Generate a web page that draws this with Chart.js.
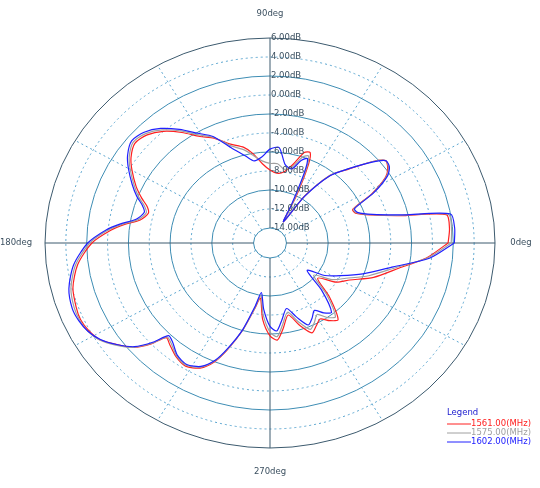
<!DOCTYPE html>
<html>
<head>
<meta charset="UTF-8">
<script src="https://cdn.jsdelivr.net/npm/chart.js"></script>
<style>body{margin:0;background:#fff}#wrap{width:540px;height:488px}</style>
</head>
<body>
<div id="wrap"><canvas id="myChart"></canvas></div>
<script>
// angle in degrees, gain in dB
const angles = [0,5,10,13,17,21,24,28,32,35,38,41,46,51,56,60,63,66,68,71,75,80,85,90,95,100,104,110,116,121,126,131,136,141,146,150,155,159,162,165,169,172,175,180,187,194,200,204,208,212,216,220,223,225,228,233,238,243,247,250,254,258,261,265,270,274,278,283,288,293,297,301,305,309,315,321,327,333,340,348,354];
const gain1561 = [1.5,1.7,1.6,-2.8,-5.5,-6.8,-6.9,-4.5,-2.5,-1.8,-1.5,-2.5,-4.8,-6.4,-9.5,-13,-10,-6.5,-5.3,-5.5,-7,-8,-8.2,-7.9,-7.2,-6,-5.2,-4.5,-3.3,-2.5,-1.2,0,0.8,1.1,0.5,-0.3,-1.4,-2.4,-3.2,-3.5,-2.9,-1.5,-0.25,1.5,3,3.9,4.2,4.3,4.1,3.65,2.6,1.5,0,-1.5,-1.2,-0.6,-0.3,-0.8,-2,-3.6,-6,-8.5,-9.7,-7.5,-5.8,-5.35,-6.5,-7.8,-6.5,-5.3,-5.8,-6.25,-5.6,-5.2,-7.5,-9.7,-8,-7,-5,-2.9,-0.5];
const gain1575 = [1.8,1.9,1.8,-2.6,-5.4,-6.7,-6.8,-4.4,-2.4,-1.7,-1.5,-2.5,-4.7,-6.4,-9.6,-13,-10.5,-7,-5.7,-6,-7.3,-7.7,-7.2,-7.2,-6.9,-6.2,-5.5,-4.7,-3.2,-2.3,-1,0.2,1,1.3,0.7,-0.1,-1.2,-2.1,-2.9,-3.3,-2.7,-1.3,0,1.7,3.2,4.1,4.4,4.4,4.2,3.7,2.7,1.5,-0.1,-1.6,-1.4,-0.7,-0.4,-0.9,-2.1,-3.7,-6,-8.6,-10,-8,-6.2,-5.7,-6.9,-8.1,-6.9,-5.7,-6.2,-6.8,-6,-5.6,-7.9,-10.2,-8.5,-7.4,-5.5,-3.2,-0.4];
const gain1602 = [2.1,2.2,2,-2.4,-5.3,-6.6,-6.7,-4.3,-2.3,-1.6,-1.5,-2.6,-4.7,-6.5,-9.7,-13,-11,-7.5,-6,-6.4,-7.5,-7.2,-5.5,-5.7,-6.5,-6.8,-6.2,-5,-3.1,-2.1,-0.8,0.4,1.2,1.5,0.9,0.1,-1,-1.9,-2.7,-3.1,-2.5,-1.1,0.2,1.9,3.4,4.3,4.6,4.5,4.2,3.6,2.6,1.4,-0.3,-1.8,-1.6,-0.8,-0.5,-1,-2.2,-3.8,-6.1,-8.8,-10.3,-8.6,-6.8,-6.3,-7.4,-8.5,-7.4,-6.2,-6.7,-7.3,-6.6,-6.2,-8.6,-11,-9.3,-8,-6.1,-3.5,-0.2];
const ringLevels = [-14,-12,-10,-8,-6,-4,-2,0,2,4,6];
const seriesNames = ['1561.00(MHz)','1575.00(MHz)','1602.00(MHz)'];
const seriesColors = ['#ff2020','#a0a0a0','#2020ff'];

const minDb = -14, maxDb = 6, hole = 15 / 205;
function rad(v) { return hole + (v - minDb) / (maxDb - minDb) * (1 - hole); }
function toXY(gains) {
    const pts = angles.map((a, i) => {
        const r = rad(gains[i]), t = a * Math.PI / 180;
        return { x: r * Math.cos(t), y: r * Math.sin(t) };
    });
    pts.push(pts[0]);
    return pts;
}

const polarGrid = {
    id: 'polarGrid',
    beforeDatasetsDraw(chart) {
        const c = chart.ctx, xs = chart.scales.x, ys = chart.scales.y;
        const cx = xs.getPixelForValue(0), cy = ys.getPixelForValue(0);
        const kx = xs.getPixelForValue(1) - cx, ky = cy - ys.getPixelForValue(1);
        c.save();
        // dashed spokes
        c.setLineDash([2, 3]);
        c.strokeStyle = '#5aa5cf';
        c.lineWidth = 1;
        for (let a = 30; a < 360; a += 30) {
            if (a % 90 === 0) continue;
            const t = a * Math.PI / 180;
            c.beginPath();
            c.moveTo(cx + hole * kx * Math.cos(t), cy - hole * ky * Math.sin(t));
            c.lineTo(cx + kx * Math.cos(t), cy - ky * Math.sin(t));
            c.stroke();
        }
        ringLevels.forEach((v, i) => {
            const r = rad(v);
            const solid = i % 2 === 0;
            c.setLineDash(solid ? [] : [2, 3]);
            c.strokeStyle = v === maxDb ? '#3c5a6e' : (solid ? '#3e8db4' : '#5aa5cf');
            c.lineWidth = 1;
            c.beginPath();
            c.ellipse(cx, cy, r * kx, r * ky, 0, 0, 2 * Math.PI);
            c.stroke();
        });
        // main axes
        c.setLineDash([]);
        c.strokeStyle = '#3c5a6e';
        [0, 90, 180, 270].forEach(a => {
            const t = a * Math.PI / 180;
            c.beginPath();
            c.moveTo(cx + hole * kx * Math.cos(t), cy - hole * ky * Math.sin(t));
            c.lineTo(cx + kx * Math.cos(t), cy - ky * Math.sin(t));
            c.stroke();
        });
        c.restore();
    },
    afterDatasetsDraw(chart) {
        const c = chart.ctx, xs = chart.scales.x, ys = chart.scales.y;
        const cx = xs.getPixelForValue(0), cy = ys.getPixelForValue(0);
        const ky = cy - ys.getPixelForValue(1);
        c.save();
        c.font = '8.5px "DejaVu Sans"';
        c.fillStyle = '#3c5060';
        c.textBaseline = 'middle';
        c.textAlign = 'left';
        ringLevels.forEach(v => {
            c.fillText(v.toFixed(2) + 'dB', cx + 1, cy - rad(v) * ky);
        });
        c.textAlign = 'center';
        c.fillText('90deg', cx, 14);
        c.fillText('270deg', cx, 472);
        c.fillText('180deg', 16, cy);
        c.fillText('0deg', 521, cy);
        // legend
        c.textAlign = 'left';
        c.fillStyle = '#2020d0';
        c.fillText('Legend', 447, 413);
        seriesNames.forEach((n, i) => {
            const y = 424 + i * 9;
            c.strokeStyle = seriesColors[i];
            c.lineWidth = 1;
            c.beginPath();
            c.moveTo(447, y); c.lineTo(471, y); c.stroke();
            c.fillStyle = seriesColors[i];
            c.fillText(n, 471, y);
        });
        c.restore();
    }
};

new Chart(document.getElementById('myChart').getContext('2d'), {
    type: 'scatter',
    data: {
        datasets: [gain1561, gain1575, gain1602].map((g, i) => ({
            label: seriesNames[i],
            data: toXY(g),
            showLine: true,
            borderColor: seriesColors[i],
            borderWidth: 1.2,
            pointRadius: 0,
            tension: 0.25,
            order: 3 - i
        }))
    },
    options: {
        responsive: true,
        maintainAspectRatio: false,
        animation: false,
        layout: { padding: { left: 45, right: 45, top: 38, bottom: 40 } },
        scales: {
            x: { display: false, min: -1, max: 1 },
            y: { display: false, min: -1, max: 1 }
        },
        plugins: { legend: { display: false }, tooltip: { enabled: false } }
    },
    plugins: [polarGrid]
});
</script>
</body>
</html>
